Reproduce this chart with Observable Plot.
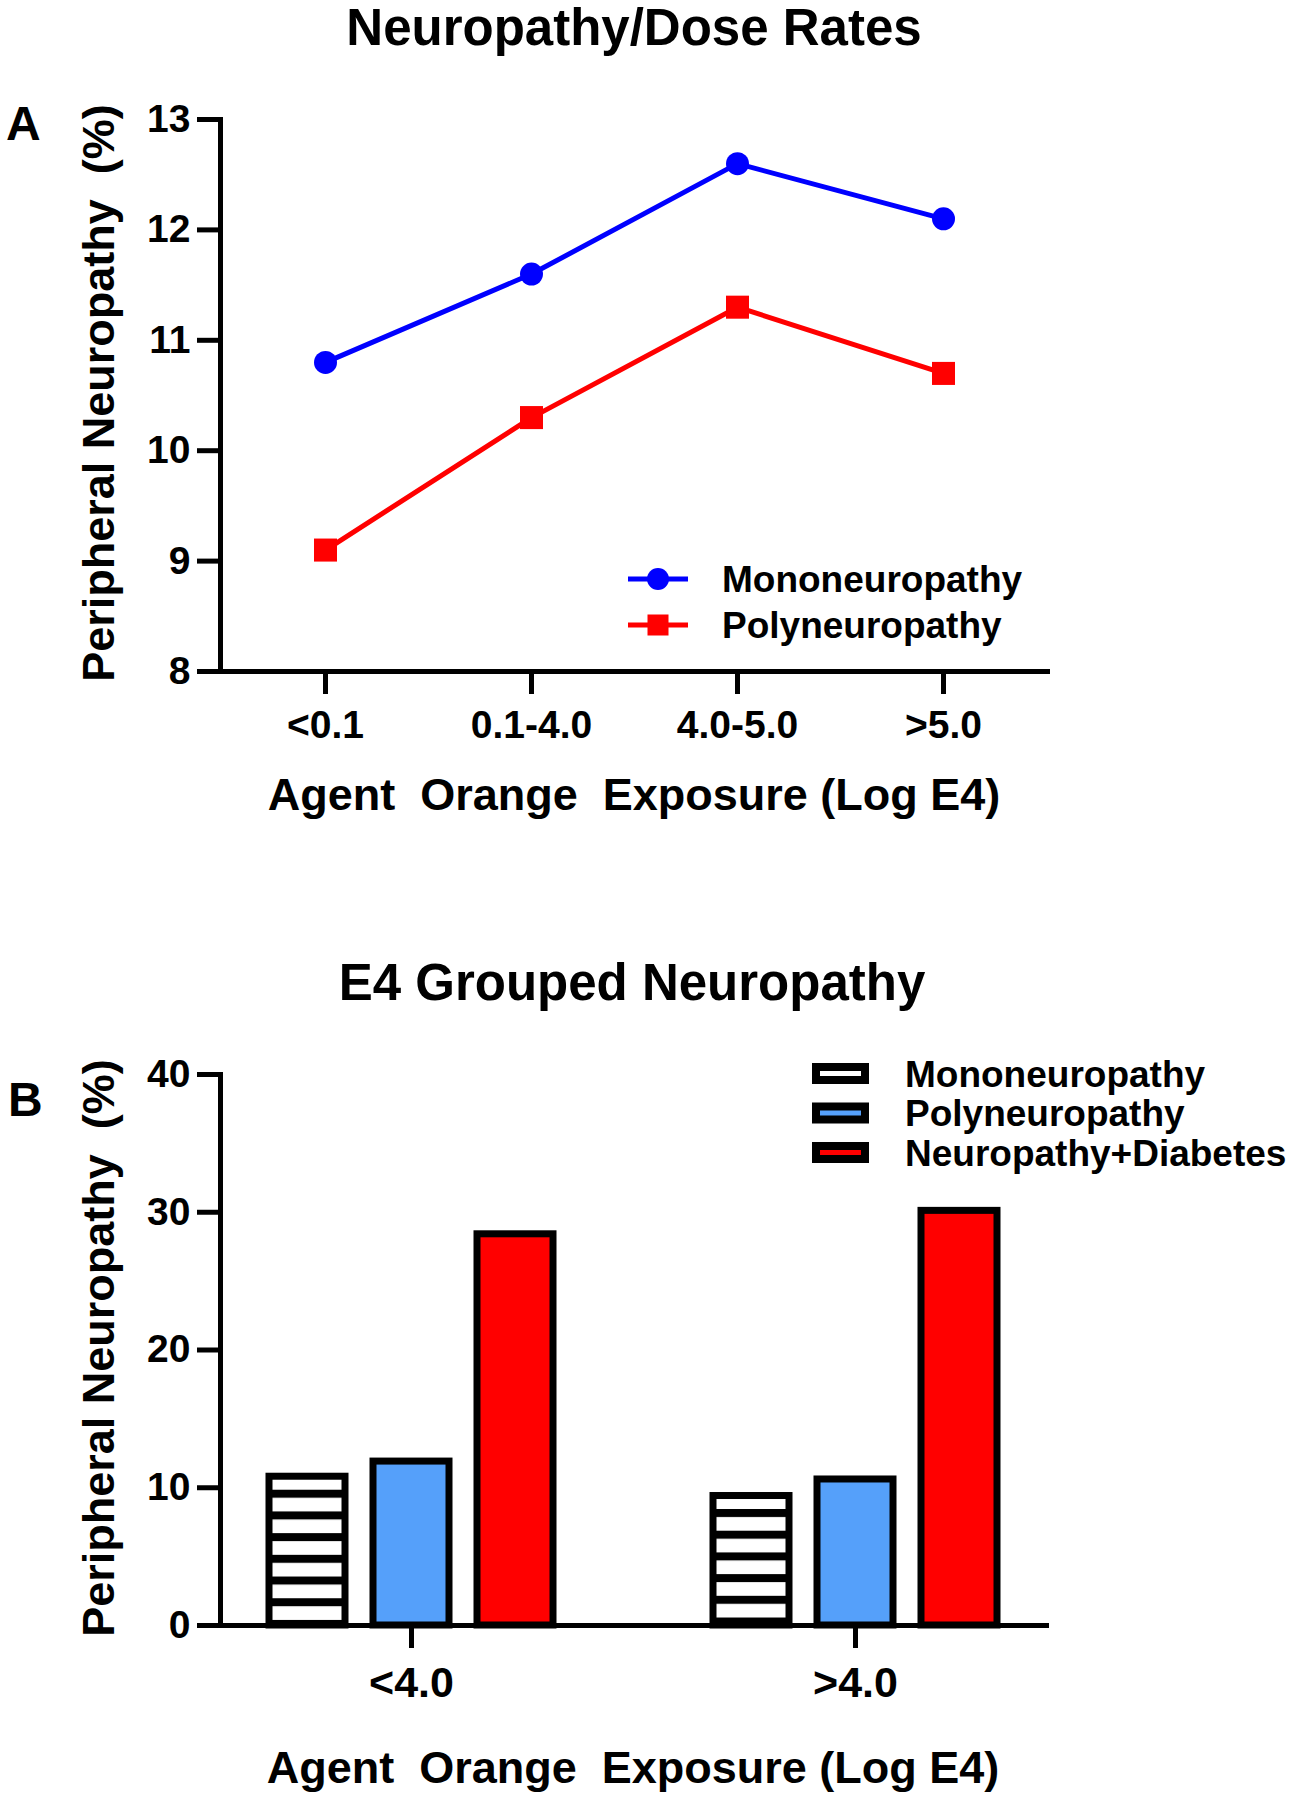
<!DOCTYPE html>
<html><head><meta charset="utf-8">
<script src="https://cdn.jsdelivr.net/npm/d3@7"></script>
<script src="https://cdn.jsdelivr.net/npm/@observablehq/plot@0.6"></script>
<style>
html,body{margin:0;padding:0;background:#fff;}
#page{position:relative;width:1291px;height:1800px;overflow:hidden;font-family:"Liberation Sans",Arial,sans-serif;}
#plotA,#plotB,#overlay{position:absolute;left:0;}
#plotA{top:0}
#plotB{top:860px}
#overlay{top:0;pointer-events:none}
</style></head>
<body><div id="page"><div id="plotA"></div><div id="plotB"></div><svg id="overlay" width="1291" height="1800"></svg></div>
<script>
// ---------- data ----------
const doseCats = ["<0.1", "0.1-4.0", "4.0-5.0", ">5.0"];
const monoRates = [10.8, 11.6, 12.6, 12.1];
const polyRates = [9.1, 10.3, 11.3, 10.7];
const lineSeries = ["Mononeuropathy", "Polyneuropathy"];
const yTicksA = [8, 9, 10, 11, 12, 13];

const e4Groups = ["<4.0", ">4.0"];
const barSeries = ["Mononeuropathy", "Polyneuropathy", "Neuropathy+Diabetes"];
const monoBars = [10.8, 9.4];
const polyBars = [11.9, 10.6];
const diabBars = [28.4, 30.1];
const yTicksB = [0, 10, 20, 30, 40];

const titleA = "Neuropathy/Dose Rates";
const titleB = "E4 Grouped Neuropathy";
const yTitle = "Peripheral Neuropathy  (%)";
const xTitle = "Agent  Orange  Exposure (Log E4)";

// ---------- styles ----------
const FONT = "'Liberation Sans', Arial, sans-serif";
const BLUE = "#0000ff", RED = "#ff0000", LIGHTBLUE = "#55a0fa";

// tables
const lineData = [];
doseCats.forEach((c, i) => {
  lineData.push({cat: c, value: monoRates[i], series: lineSeries[0]});
  lineData.push({cat: c, value: polyRates[i], series: lineSeries[1]});
});
const barData = [];
e4Groups.forEach((g, i) => {
  barData.push({group: g, series: barSeries[0], value: monoBars[i]});
  barData.push({group: g, series: barSeries[1], value: polyBars[i]});
  barData.push({group: g, series: barSeries[2], value: diabBars[i]});
});

const axisStyle = {fontSize: 39, fontWeight: "bold", strokeWidth: 5, label: null};
const intFmt = d => String(d);

// ---------- panel A ----------
const plotA = Plot.plot({
  width: 1291, height: 860,
  marginLeft: 220, marginRight: 244, marginTop: 119, marginBottom: 189,
  style: {fontFamily: FONT, fontWeight: "bold", color: "black", background: "transparent"},
  x: {type: "point", domain: doseCats, padding: 0.5},
  y: {domain: [8, 13]},
  color: {domain: lineSeries, range: [BLUE, RED]},
  marks: [
    Plot.line(lineData, {x: "cat", y: "value", z: "series", stroke: "series", strokeWidth: 5}),
    Plot.dot(lineData.filter(d => d.series === lineSeries[0]), {x: "cat", y: "value", r: 11.5, fill: BLUE, stroke: null}),
    Plot.dot(lineData.filter(d => d.series === lineSeries[1]), {x: "cat", y: "value", r: 13, symbol: "square", fill: RED, stroke: null}),
    Plot.frame({anchor: "left", strokeWidth: 5, strokeLinecap: "square"}),
    Plot.frame({anchor: "bottom", strokeWidth: 5, strokeLinecap: "square"}),
    Plot.axisY({ticks: yTicksA, tickFormat: intFmt, tickSize: 23, tickPadding: 7, ...axisStyle}),
    Plot.axisX({tickSize: 23, tickPadding: 16, ...axisStyle})
  ]
});
document.getElementById("plotA").appendChild(plotA);

// ---------- panel B ----------
const plotB = Plot.plot({
  width: 1291, height: 940,
  marginLeft: 220, marginRight: 245, marginTop: 214, marginBottom: 175,
  style: {fontFamily: FONT, fontWeight: "bold", color: "black", background: "transparent"},
  fx: {domain: e4Groups, paddingInner: 0.14, paddingOuter: 0},
  x: {domain: barSeries, paddingInner: 0.273, paddingOuter: 0.4636, axis: null},
  y: {domain: [0, 40]},
  color: {domain: barSeries, range: ["url(#hatch)", LIGHTBLUE, RED]},
  marks: [
    Plot.barY(barData, {fx: "group", x: "series", y: "value", fill: "series", stroke: "black", strokeWidth: 7}),
    Plot.frame({anchor: "left", facet: "super", strokeWidth: 5, strokeLinecap: "square"}),
    Plot.frame({anchor: "bottom", facet: "super", strokeWidth: 5, strokeLinecap: "square"}),
    Plot.axisY({ticks: yTicksB, tickFormat: intFmt, tickSize: 23, tickPadding: 7, ...axisStyle}),
    Plot.axisFx({anchor: "bottom", tickSize: 23, tickPadding: 18, ...axisStyle, fontSize: 43})
  ]
});
document.getElementById("plotB").appendChild(plotB);

// hatch pattern for the mononeuropathy bars (stripes aligned to each bar's top)
(function () {
  const svg = d3.select(plotB.tagName.toLowerCase() === "svg" ? plotB : plotB.querySelector("svg"));
  const defs = svg.insert("defs", ":first-child");
  svg.selectAll("rect").filter(function () { return this.getAttribute("fill") === "url(#hatch)"; })
    .each(function (d, i) {
      const y = +this.getAttribute("y");
      const id = "hatch" + i;
      const P = 21.7;
      const p = defs.append("pattern").attr("id", id).attr("patternUnits", "userSpaceOnUse")
        .attr("x", 0).attr("y", y + 13.5).attr("width", 20).attr("height", P);
      p.append("rect").attr("width", 20).attr("height", P).attr("fill", "white");
      p.append("rect").attr("width", 20).attr("height", 8).attr("fill", "black");
      this.setAttribute("fill", `url(#${id})`);
    });
})();

// ---------- titles, labels, legends ----------
const ov = d3.select("#overlay").attr("font-family", FONT).attr("font-weight", "bold");
function txt(x, y, s, size, anchor = "middle", rot = 0) {
  const t = ov.append("text").attr("font-size", size).attr("text-anchor", anchor)
    .attr("fill", "black").style("white-space", "pre").text(s);
  if (rot) t.attr("transform", `translate(${x},${y}) rotate(${rot})`);
  else t.attr("x", x).attr("y", y);
  return t;
}
txt(634, 45, titleA, 51);
txt(632, 1000, titleB, 51);
txt(6, 140, "A", 48, "start");
txt(8, 1116, "B", 48, "start");
txt(114, 393, yTitle, 45, "middle", -90);
txt(114, 1348, yTitle, 45, "middle", -90);
txt(634, 810, xTitle, 45);
txt(633, 1783, xTitle, 45);

// legend A
const legA = [
  {label: lineSeries[0], color: BLUE, shape: "circle", y: 579},
  {label: lineSeries[1], color: RED, shape: "square", y: 625}
];
legA.forEach(d => {
  ov.append("line").attr("x1", 628).attr("x2", 688).attr("y1", d.y).attr("y2", d.y)
    .attr("stroke", d.color).attr("stroke-width", 5);
  if (d.shape === "circle") ov.append("circle").attr("cx", 658).attr("cy", d.y).attr("r", 11).attr("fill", d.color);
  else ov.append("rect").attr("x", 647.5).attr("y", d.y - 10.5).attr("width", 21).attr("height", 21).attr("fill", d.color);
  txt(722, d.y + 13, d.label, 37, "start");
});

// legend B
const legBFill = ["white", LIGHTBLUE, RED];
barSeries.forEach((s, i) => {
  const cy = 1073.5 + i * 39.5;
  ov.append("rect").attr("x", 816).attr("y", cy - 6.5).attr("width", 49).attr("height", 13)
    .attr("fill", legBFill[i]).attr("stroke", "black").attr("stroke-width", 8);
  txt(905, cy + 13, s, 37, "start");
});
</script>
</body></html>
